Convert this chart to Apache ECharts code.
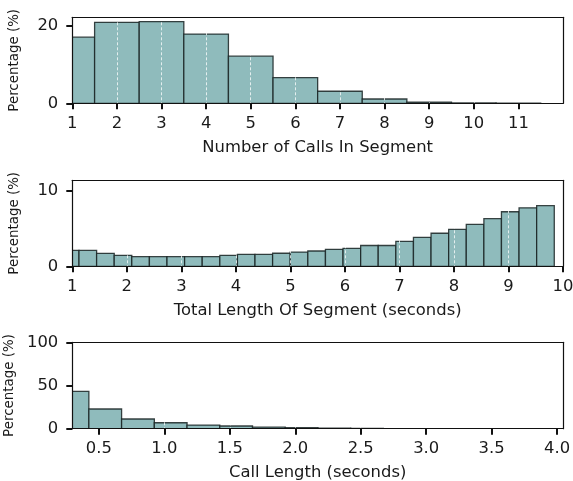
<!DOCTYPE html>
<html>
<head>
<meta charset="utf-8">
<script src="https://cdn.jsdelivr.net/npm/echarts@6/dist/echarts.min.js"></script>
<style>
  html, body { margin: 0; padding: 0; background: #fff; }
  #chart { width: 573px; height: 481px; }
</style>
</head>
<body>
<div id="chart"></div>
<script>
// Number of calls per segment: bin edges and share of segments (%)
const callsEdges = [0.5, 1.5, 2.5, 3.5, 4.5, 5.5, 6.5, 7.5, 8.5, 9.5, 10.5, 11.5];
const callsPct = [17.0, 20.8, 21.0, 17.8, 12.1, 6.6, 3.1, 1.1, 0.3, 0.08, 0.05];
const callsTicks = [1, 2, 3, 4, 5, 6, 7, 8, 9, 10, 11];

// Total segment length (seconds): bin edges and share of segments (%)
const segEdges = [0.8, 1.123, 1.446, 1.769, 2.091, 2.414, 2.737, 3.060, 3.383, 3.706,
                  4.029, 4.351, 4.674, 4.997, 5.320, 5.643, 5.966, 6.289, 6.611, 6.934,
                  7.257, 7.580, 7.903, 8.226, 8.549, 8.871, 9.194, 9.517, 9.840];
const segPct = [2.11, 2.11, 1.72, 1.45, 1.28, 1.28, 1.28, 1.28, 1.28, 1.45,
                1.59, 1.59, 1.73, 1.88, 2.03, 2.25, 2.38, 2.76, 2.76, 3.31,
                3.84, 4.38, 4.90, 5.56, 6.31, 7.23, 7.75, 8.04];
const segTicks = [1, 2, 3, 4, 5, 6, 7, 8, 9, 10];

// Individual call length (seconds): bin edges and share of calls (%)
const callEdges = [0.1735, 0.4235, 0.6735, 0.9235, 1.1735, 1.4235, 1.6735, 1.9235,
                   2.1735, 2.4235, 2.6735, 2.9235, 3.1735, 3.4235, 3.6735, 3.9235];
const callPct = [43.2, 22.8, 11.2, 6.9, 4.2, 3.1, 1.9, 1.2, 0.5, 0.3, 0.2, 0.1, 0.1, 0.05, 0.05];
const callTicks = [0.5, 1.0, 1.5, 2.0, 2.5, 3.0, 3.5, 4.0];

const yTicks = [[0, 20], [0, 10], [0, 50, 100]];
const yLabel = 'Percentage (%)';
const xLabels = ['Number of Calls In Segment', 'Total Length Of Segment (seconds)', 'Call Length (seconds)'];

const FONT = 'DejaVu Sans';
const TEXT = '#1a1a1a';
const BAR_FILL = '#8fbbbc';
const BAR_EDGE = 'rgba(25,35,35,0.85)';

// Axis ranges per panel
const xRanges = [[1, 12], [1, 10], [0.297, 4.045]];
const yMax = [22.1, 11.4, 100];

function histData(edges, values) {
  return values.map((v, i) => [edges[i], edges[i + 1], v]);
}

function renderBin(params, api) {
  const p0 = api.coord([api.value(0), api.value(2)]);
  const p1 = api.coord([api.value(1), 0]);
  return {
    type: 'rect',
    shape: { x: p0[0], y: p0[1], width: p1[0] - p0[0], height: p1[1] - p0[1] },
    style: { fill: BAR_FILL, stroke: BAR_EDGE, lineWidth: 1.3 }
  };
}

const grids = [
  { left: 72.3, right: 10, top: 17.3, height: 86 },
  { left: 72.3, right: 10, top: 180.3, height: 86 },
  { left: 72.3, right: 10, top: 342.3, height: 86.4 }
].map(g => Object.assign({ show: false, containLabel: false, outerBoundsMode: 'none' }, g));

const gridLine = { show: true, showMinLine: false, showMaxLine: false,
  lineStyle: { color: 'rgba(255,255,255,0.75)', width: 1, type: [3, 2] } };

const spine = { show: true, onZero: false, lineStyle: { color: '#111', width: 1.2 } };

function xAxisOf(idx, ticks, fmt, name) {
  return {
    type: 'value', gridIndex: idx, min: xRanges[idx][0], max: xRanges[idx][1], z: 5,
    name: name, nameLocation: 'middle', nameGap: 36.5,
    nameTextStyle: { fontFamily: FONT, fontSize: 16.4, color: TEXT },
    axisLine: spine,
    axisTick: { show: true, customValues: ticks, length: 6, lineStyle: { color: '#111', width: 2 } },
    axisLabel: { customValues: ticks, margin: 12.5, fontFamily: FONT, fontSize: 16.4, color: TEXT,
                 formatter: fmt },
    splitLine: gridLine
  };
}

function yAxisOf(idx, ticks) {
  return {
    type: 'value', gridIndex: idx, min: 0, max: yMax[idx], z: 5,
    name: yLabel, nameLocation: 'middle', nameGap: 51.5,
    nameTextStyle: { fontFamily: FONT, fontSize: 13.4, color: TEXT },
    axisLine: spine,
    axisTick: { show: true, customValues: ticks, length: 6, lineStyle: { color: '#111', width: 2 } },
    axisLabel: { customValues: ticks, margin: 14, fontFamily: FONT, fontSize: 16.4, color: TEXT },
    splitLine: gridLine
  };
}

// Plain top / right spines closing each panel's frame
function frameX(idx) {
  return { type: 'value', gridIndex: idx, position: 'top', min: xRanges[idx][0], max: xRanges[idx][1],
           z: 10, axisLine: spine, axisTick: { show: false }, axisLabel: { show: false },
           splitLine: { show: false } };
}
function frameY(idx) {
  return { type: 'value', gridIndex: idx, position: 'right', min: 0, max: yMax[idx],
           z: 10, axisLine: spine, axisTick: { show: false }, axisLabel: { show: false },
           splitLine: { show: false } };
}

const option = {
  animation: false,
  backgroundColor: '#fff',
  grid: grids,
  xAxis: [
    xAxisOf(0, callsTicks, v => String(v), xLabels[0]),
    xAxisOf(1, segTicks, v => String(v), xLabels[1]),
    xAxisOf(2, callTicks, v => v.toFixed(1), xLabels[2]),
    frameX(0), frameX(1), frameX(2)
  ],
  yAxis: [
    yAxisOf(0, yTicks[0]),
    yAxisOf(1, yTicks[1]),
    yAxisOf(2, yTicks[2]),
    frameY(0), frameY(1), frameY(2)
  ],
  series: [
    { type: 'custom', xAxisIndex: 0, yAxisIndex: 0, clip: true, renderItem: renderBin,
      data: histData(callsEdges, callsPct) },
    { type: 'custom', xAxisIndex: 1, yAxisIndex: 1, clip: true, renderItem: renderBin,
      data: histData(segEdges, segPct) },
    { type: 'custom', xAxisIndex: 2, yAxisIndex: 2, clip: true, renderItem: renderBin,
      data: histData(callEdges, callPct) }
  ]
};

const chart = echarts.init(document.getElementById('chart'), null, { renderer: 'canvas' });
chart.setOption(option);
</script>
</body>
</html>
